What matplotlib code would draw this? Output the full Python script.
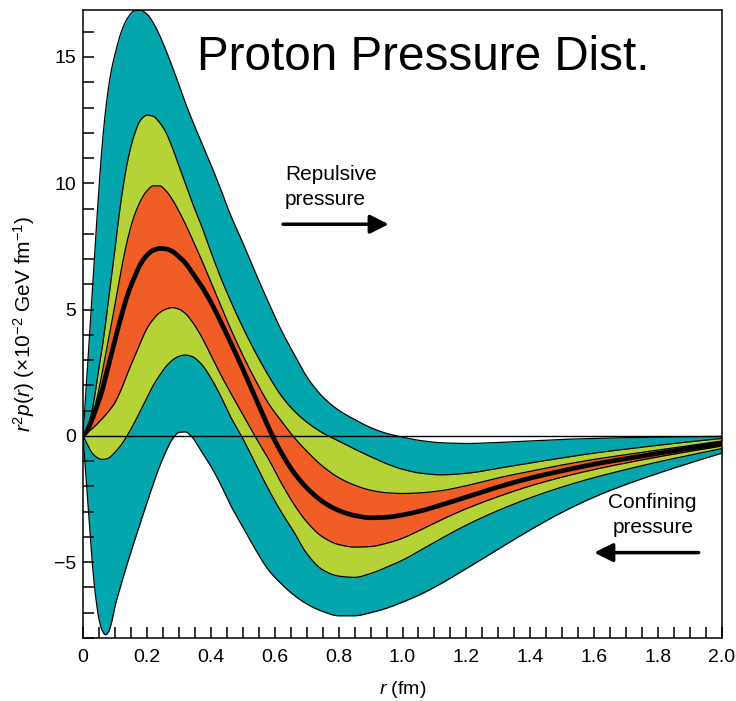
import matplotlib
matplotlib.use("Agg")
import numpy as np
import matplotlib.pyplot as plt
from matplotlib.ticker import MultipleLocator, FixedLocator, FixedFormatter

plt.rcParams['font.family'] = ['Liberation Sans', 'DejaVu Sans']
plt.rcParams['mathtext.fontset'] = 'custom'
plt.rcParams['mathtext.rm'] = 'Liberation Sans'
plt.rcParams['mathtext.it'] = 'Liberation Sans:italic'

# ---- data ----
r = [0, 0.01, 0.02, 0.03, 0.04, 0.05, 0.06, 0.07, 0.08, 0.09, 0.10, 0.12, 0.14, 0.16, 0.18,
     0.20, 0.22, 0.24, 0.26, 0.28, 0.30, 0.32, 0.34, 0.37, 0.40, 0.43, 0.46, 0.50, 0.54, 0.58,
     0.62, 0.66, 0.70, 0.75, 0.80, 0.85, 0.90, 0.95, 1.00, 1.06, 1.12, 1.20, 1.30, 1.40, 1.50,
     1.60, 1.70, 1.80, 1.90, 2.00]

teal_upper = [0, 1.9, 3.9, 5.9, 7.9, 9.8, 11.5, 12.8, 13.8, 14.55, 15.1, 16.0, 16.55, 16.82, 16.85,
              16.7, 16.35, 15.85, 15.25, 14.6, 13.9, 13.2, 12.55, 11.65, 10.75, 9.8, 8.8, 7.65, 6.45, 5.3,
              4.2, 3.25, 2.35, 1.55, 1.02, 0.65, 0.33, 0.1, -0.05, -0.19, -0.27, -0.3, -0.26, -0.2, -0.14,
              -0.1, -0.07, -0.05, -0.03, -0.02]

green_upper = [0, 0.2, 0.6, 1.1, 1.85, 2.7, 3.5, 4.4, 5.4, 6.4, 7.4, 9.4, 10.9, 11.9, 12.5,
               12.7, 12.65, 12.4, 12.0, 11.4, 10.7, 10.0, 9.3, 8.35, 7.3, 6.3, 5.4, 4.3, 3.3, 2.4,
               1.6, 1.0, 0.55, 0.12, -0.2, -0.52, -0.82, -1.1, -1.32, -1.48, -1.54, -1.48, -1.28, -1.07, -0.87,
               -0.68, -0.52, -0.37, -0.23, -0.1]

orange_upper = [0, 0.15, 0.45, 0.85, 1.3, 1.85, 2.5, 3.15, 3.8, 4.5, 5.2, 6.6, 7.8, 8.7, 9.3,
                9.7, 9.9, 9.9, 9.7, 9.35, 8.9, 8.4, 7.85, 7.0, 6.1, 5.2, 4.3, 3.2, 2.2, 1.3,
                0.6, -0.05, -0.6, -1.2, -1.65, -1.95, -2.15, -2.25, -2.28, -2.25, -2.17, -1.97, -1.66, -1.4, -1.15,
                -0.93, -0.74, -0.56, -0.38, -0.2]

central = [0, 0.15, 0.4, 0.7, 1.05, 1.4, 1.8, 2.3, 2.8, 3.3, 3.8, 4.75, 5.6, 6.25, 6.8,
           7.15, 7.35, 7.42, 7.4, 7.3, 7.1, 6.85, 6.5, 5.95, 5.3, 4.55, 3.75, 2.65, 1.5, 0.35,
           -0.65, -1.45, -2.05, -2.6, -2.95, -3.15, -3.24, -3.22, -3.13, -2.96, -2.74, -2.42, -2.02, -1.67, -1.38,
           -1.12, -0.9, -0.69, -0.49, -0.3]

orange_lower = [0, 0.1, 0.2, 0.3, 0.42, 0.55, 0.68, 0.82, 0.97, 1.13, 1.32, 1.85, 2.5, 3.1, 3.7,
                4.25, 4.62, 4.88, 5.02, 5.08, 5.02, 4.85, 4.55, 3.95, 3.2, 2.45, 1.75, 0.85, -0.05, -0.9,
                -1.85, -2.7, -3.4, -4.0, -4.3, -4.4, -4.38, -4.25, -4.05, -3.7, -3.33, -2.88, -2.4, -1.98, -1.63,
                -1.33, -1.07, -0.83, -0.61, -0.4]

green_lower = [0, -0.25, -0.5, -0.7, -0.82, -0.9, -0.93, -0.92, -0.88, -0.78, -0.65, -0.35, 0.05, 0.5, 1.0,
               1.5, 2.0, 2.4, 2.75, 3.0, 3.15, 3.2, 3.15, 2.85, 2.3, 1.6, 0.8, -0.1, -1.1, -2.1,
               -3.0, -3.8, -4.65, -5.3, -5.55, -5.6, -5.45, -5.2, -4.92, -4.5, -4.07, -3.53, -2.95, -2.45, -2.02,
               -1.65, -1.33, -1.03, -0.76, -0.5]

teal_lower = [0, -1.75, -3.5, -5.17, -6.4, -7.25, -7.7, -7.87, -7.75, -7.35, -6.75, -5.85, -5.0, -4.2, -3.42,
              -2.65, -1.9, -1.2, -0.6, -0.12, 0.14, 0.16, -0.03, -0.6, -1.2, -1.9, -2.7, -3.6, -4.5, -5.3,
              -5.85, -6.3, -6.65, -6.95, -7.12, -7.12, -7.0, -6.82, -6.58, -6.25, -5.85, -5.25, -4.48, -3.72, -3.02,
              -2.42, -1.92, -1.48, -1.07, -0.68]

x_ticks = [0, 0.2, 0.4, 0.6, 0.8, 1.0, 1.2, 1.4, 1.6, 1.8, 2.0]
x_tick_labels = ['0', '0.2', '0.4', '0.6', '0.8', '1.0', '1.2', '1.4', '1.6', '1.8', '2.0']
y_ticks = [-5, 0, 5, 10, 15]
y_tick_labels = ['\u22125', '0', '5', '10', '15']

TEAL = '#04A6AE'
GREEN = '#B5D336'
ORANGE = '#F15D26'


def smooth_path(x, y, n=12):
    """Monotone cubic (PCHIP) rendering path through the read points (drawing only)."""
    x = np.asarray(x, float)
    y = np.asarray(y, float)
    h = np.diff(x)
    d = np.diff(y) / h
    m = np.zeros_like(y)
    for k in range(1, len(x) - 1):
        if d[k - 1] * d[k] > 0:
            w1 = 2 * h[k] + h[k - 1]
            w2 = h[k] + 2 * h[k - 1]
            m[k] = (w1 + w2) / (w1 / d[k - 1] + w2 / d[k])
    m[0] = d[0]
    m[-1] = d[-1]
    xs, ys = [], []
    for k in range(len(x) - 1):
        t = np.linspace(0, 1, n, endpoint=False)
        h00 = 2 * t**3 - 3 * t**2 + 1
        h10 = t**3 - 2 * t**2 + t
        h01 = -2 * t**3 + 3 * t**2
        h11 = t**3 - t**2
        xs.append(x[k] + t * h[k])
        ys.append(h00 * y[k] + h10 * h[k] * m[k] + h01 * y[k + 1] + h11 * h[k] * m[k + 1])
    xs.append([x[-1]])
    ys.append([y[-1]])
    return np.concatenate(xs), np.concatenate(ys)


fig = plt.figure(figsize=(7.36, 7.01), dpi=100)
ax = fig.add_axes([83/736, 1 - 638/701, (722-83)/736, (638-9.5)/701])

curves = {name: smooth_path(r, vals) for name, vals in [
    ('tu', teal_upper), ('gu', green_upper), ('ou', orange_upper), ('c', central),
    ('ol', orange_lower), ('gl', green_lower), ('tl', teal_lower)]}
xs = curves['c'][0]

ax.fill_between(xs, curves['tl'][1], curves['tu'][1], color=TEAL, lw=0, zorder=1)
ax.fill_between(xs, curves['gl'][1], curves['gu'][1], color=GREEN, lw=0, zorder=2)
ax.fill_between(xs, curves['ol'][1], curves['ou'][1], color=ORANGE, lw=0, zorder=3)
for key in ('tu', 'gu', 'ou', 'ol', 'gl', 'tl'):
    ax.plot(*curves[key], color='black', lw=0.9, zorder=4)
ax.axhline(0, color='black', lw=1.0, zorder=5)
ax.plot(*curves['c'], color='black', lw=3.4, zorder=6, solid_capstyle='round')

ax.set_xlim(0, 2.0)
ax.set_ylim(-8, 16.88)

ax.xaxis.set_major_locator(FixedLocator(x_ticks))
ax.xaxis.set_major_formatter(FixedFormatter(x_tick_labels))
ax.xaxis.set_minor_locator(MultipleLocator(0.05))
ax.yaxis.set_major_locator(FixedLocator(y_ticks))
ax.yaxis.set_major_formatter(FixedFormatter(y_tick_labels))
ax.yaxis.set_minor_locator(MultipleLocator(1))
ax.tick_params(which='both', direction='in', length=8, width=1.1, top=False, right=False,
               labelsize=14, colors='black')
ax.tick_params(axis='x', pad=8)
ax.tick_params(axis='y', pad=5)
for s in ax.spines.values():
    s.set_linewidth(1.1)

ax.set_xlabel(r'$r$ (fm)', fontsize=14, labelpad=9)
ax.set_ylabel(r'$r^2p(r)$ ($\times$10$^{-2}$ GeV fm$^{-1}$)', fontsize=15)
ax.yaxis.set_label_coords(-0.072, 0.5)

ax.text(0.178, 0.904, 'Proton Pressure Dist.', transform=ax.transAxes, fontsize=34.3,
        ha='left', va='baseline', zorder=10)

ax.text(0.632, 10.12, 'Repulsive', fontsize=15, ha='left', va='baseline', zorder=10)
ax.text(0.632, 9.13, 'pressure', fontsize=15, ha='left', va='baseline', zorder=10)
ax.annotate('', xy=(0.957, 8.38), xytext=(0.626, 8.38),
            arrowprops=dict(arrowstyle='-|>', lw=2.5, color='black', mutation_scale=28,
                            shrinkA=0, shrinkB=0), zorder=10)

ax.text(1.781, -2.85, 'Confining', fontsize=15, ha='center', va='baseline', zorder=10)
ax.text(1.784, -3.83, 'pressure', fontsize=15, ha='center', va='baseline', zorder=10)
ax.annotate('', xy=(1.600, -4.62), xytext=(1.927, -4.62),
            arrowprops=dict(arrowstyle='-|>', lw=2.5, color='black', mutation_scale=28,
                            shrinkA=0, shrinkB=0), zorder=10)

fig.savefig('out.png', dpi=100)
